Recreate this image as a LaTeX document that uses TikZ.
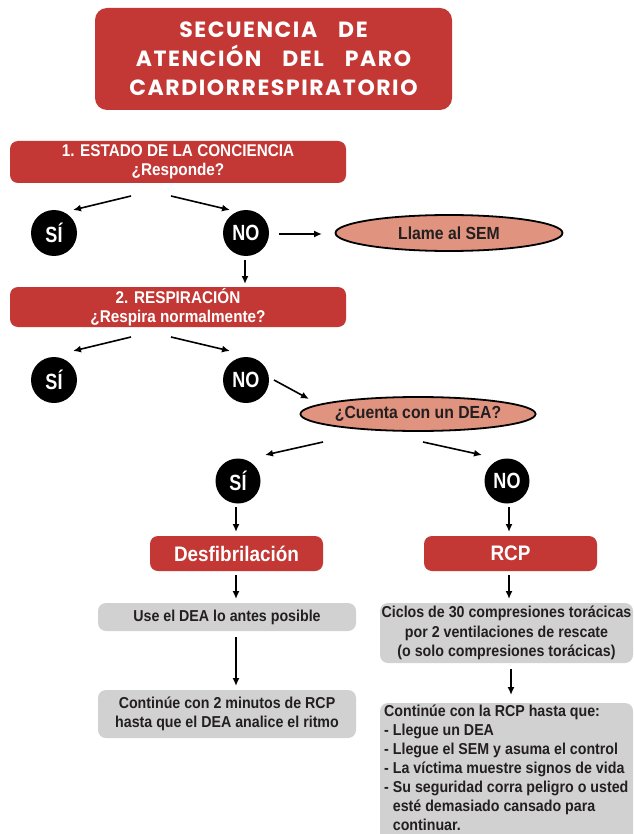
\documentclass[tikz,border=0pt]{standalone}
\usepackage{fontspec}
\setmainfont{Liberation Sans}
\newfontfamily\condfont{Liberation Sans}[FakeStretch=0.9]
\newfontfamily\narrowfont{Liberation Sans}[FakeStretch=0.82]
\newfontfamily\titlefont{Poppins}[LetterSpace=7]
\usetikzlibrary{arrows.meta,calc,shapes.geometric}
\definecolor{rojo}{HTML}{C33734}
\definecolor{salmon}{HTML}{E0937F}
\definecolor{gris}{HTML}{D1D1D1}
\definecolor{tinta}{HTML}{231F20}
\tikzset{
  redbox/.style={fill=rojo, rounded corners=8pt, text=white, align=center, inner sep=0pt},
  hdfont/.style={font=\condfont\bfseries\fontsize{17}{19}\selectfont},
  circ/.style={circle, fill=black, minimum size=46pt, inner sep=0pt, text=white,
    font=\narrowfont\bfseries\fontsize{22}{22}\selectfont},
  oval/.style={ellipse, fill=salmon, draw=black, line width=1.8pt, inner sep=0pt, text=tinta,
    font=\condfont\bfseries\fontsize{17.5}{17.5}\selectfont},
  graybox/.style={fill=gris, rounded corners=8pt, text=tinta, align=center, inner sep=0pt,
    font=\condfont\bfseries\fontsize{15.8}{19.5}\selectfont},
  arr/.style={-{Latex[length=8pt,width=7pt]}, line width=1.6pt},
}
\begin{document}
\begin{tikzpicture}[x=1pt,y=-1pt]
\useasboundingbox (0,0) rectangle (633,834);
\fill[white] (0,0) rectangle (633,834);

% title
\node[redbox, rounded corners=12pt, minimum width=357pt, minimum height=102pt,
  font={\titlefont\bfseries\fontsize{22}{29}\selectfont\spaceskip=21pt\relax}] (title) at (273.5,59)
  {SECUENCIA DE\\ATENCIÓN DEL PARO\\CARDIORRESPIRATORIO};

% step 1
\node[redbox, hdfont, minimum width=336pt, minimum height=42pt] (b1) at (178,162)
  {1. ESTADO DE LA CONCIENCIA\\¿Responde?};
\node[circ] (si1) at (54,233) {SÍ};
\node[circ] (no1) at (246,233) {NO};
\node[oval, minimum width=227pt, minimum height=36pt] (sem) at (449,233) {Llame al SEM};

\coordinate (b1l) at (131,196); \coordinate (si1e) at (73,210);
\coordinate (b1r) at (171,196); \coordinate (no1e) at (230,210);
\draw[arr] (b1l) -- (si1e);
\draw[arr] (b1r) -- (no1e);
\coordinate (no1r) at (279,234); \coordinate (seml) at (322,234);
\draw[arr] (no1r) -- (seml);
\coordinate (no1d) at (245,260); \coordinate (b2u) at (245,284);
\draw[arr] (no1d) -- (b2u);

% step 2
\node[redbox, hdfont, minimum width=336pt, minimum height=40pt] (b2) at (178,307)
  {2. RESPIRACIÓN\\¿Respira normalmente?};
\node[circ] (si2) at (54,380) {SÍ};
\node[circ] (no2) at (246,380) {NO};
\node[oval, minimum width=229pt, minimum height=34pt] (dea) at (418,414) {¿Cuenta con un DEA?};

\coordinate (b2l) at (131,337); \coordinate (si2e) at (73,351);
\coordinate (b2r) at (171,337); \coordinate (no2e) at (230,351);
\draw[arr] (b2l) -- (si2e);
\draw[arr] (b2r) -- (no2e);
\coordinate (no2r) at (274,380); \coordinate (deae) at (309,399);
\draw[arr] (no2r) -- (deae);

% step 3
\node[circ, minimum size=45pt] (si3) at (238,481) {SÍ};
\node[circ, minimum size=45pt] (no3) at (507,481) {NO};
\coordinate (deal) at (323,442); \coordinate (si3e) at (265,455);
\coordinate (dear) at (423,442); \coordinate (no3e) at (482,455);
\draw[arr] (deal) -- (si3e);
\draw[arr] (dear) -- (no3e);

\node[redbox, minimum width=173pt, minimum height=35pt,
  font=\condfont\bfseries\fontsize{21}{21}\selectfont] (desf) at (236.5,553.5) {Desfibrilación};
\node[redbox, minimum width=173pt, minimum height=35pt,
  font=\condfont\bfseries\fontsize{21}{21}\selectfont] (rcp) at (510.5,553.5) {RCP};

\coordinate (si3d) at (236,507); \coordinate (desfu) at (236,532);
\coordinate (no3d) at (509,507); \coordinate (rcpu) at (509,532);
\draw[arr] (si3d) -- (desfu);
\draw[arr] (no3d) -- (rcpu);

% gray boxes
\node[graybox, minimum width=258pt, minimum height=28pt] (g1) at (227,617)
  {Use el DEA lo antes posible};
\node[graybox, minimum width=258pt, minimum height=48pt] (g2) at (227,714)
  {Continúe con 2 minutos de RCP\\hasta que el DEA analice el ritmo};
\node[graybox, minimum width=253pt, minimum height=60pt] (g3) at (506.5,633)
  {Ciclos de 30 compresiones torácicas\\por 2 ventilaciones de rescate\\(o solo compresiones torácicas)};

\coordinate (desfd) at (236,575); \coordinate (g1u) at (236,599);
\coordinate (rcpd) at (509,575); \coordinate (g3u) at (509,599);
\draw[arr] (desfd) -- (g1u);
\draw[arr] (rcpd) -- (g3u);
\coordinate (g1d) at (236,637); \coordinate (g2u) at (236,686);
\draw[arr] (g1d) -- (g2u);
\coordinate (g3d) at (511,669); \coordinate (g4u) at (511,695);
\draw[arr] (g3d) -- (g4u);

\begin{scope}
\clip (0,0) rectangle (633,834);
\fill[gris, rounded corners=8pt] (380,703) rectangle (633,850);
\end{scope}
\node[anchor=north west, align=left, inner sep=0pt, text=tinta,
  font=\condfont\bfseries\fontsize{15.8}{18.9}\selectfont] (g4) at (384,705)
  {Continúe con la RCP hasta que:\\
   - Llegue un DEA\\
   - Llegue el SEM y asuma el control\\
   - La víctima muestre signos de vida\\
   - Su seguridad corra peligro o usted\\
   \hphantom{- }esté demasiado cansado para\\
   \hphantom{- }continuar.};
\end{tikzpicture}
\end{document}
